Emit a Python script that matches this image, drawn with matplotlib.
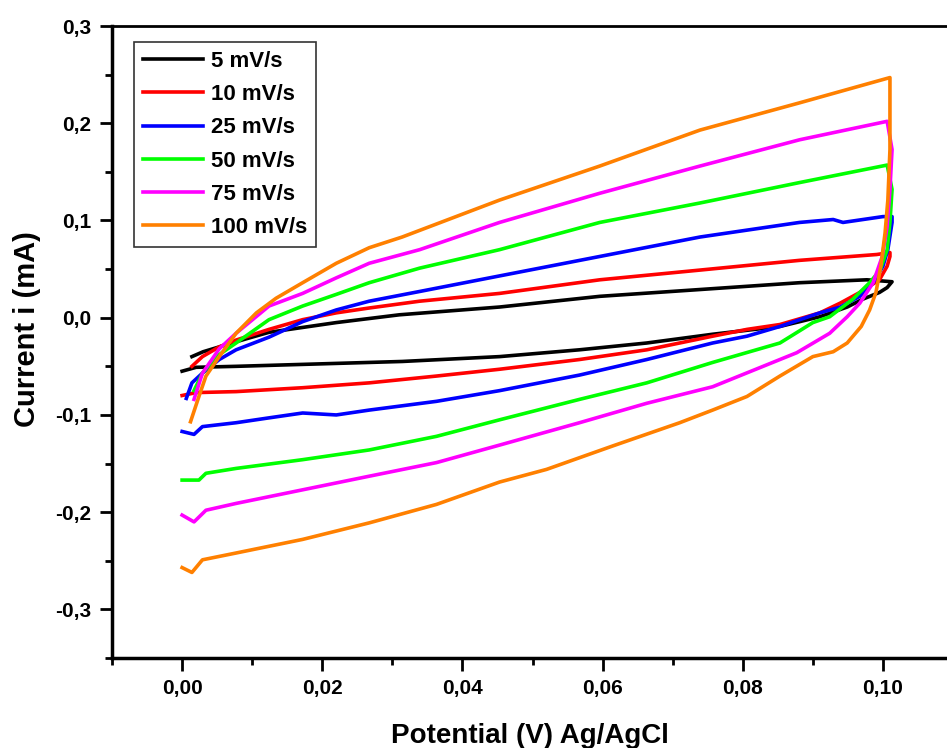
import matplotlib.pyplot as plt
from matplotlib.ticker import MultipleLocator, FuncFormatter

plt.rcParams['font.family'] = ['Liberation Sans', 'DejaVu Sans']
plt.rcParams['font.weight'] = 'bold'

# Cyclic voltammograms: forward branch, reversal, reverse branch
labels = ['5 mV/s', '10 mV/s', '25 mV/s', '50 mV/s', '75 mV/s', '100 mV/s']
colors = ['#000000', '#ff0000', '#0000ff', '#00ff00', '#ff00ff', '#ff8000']

x_5 = [0.0014, 0.0030, 0.0053, 0.0090, 0.0124, 0.0220, 0.0310, 0.0453, 0.0596,
       0.0739, 0.0881, 0.0977, 0.1013, 0.1006, 0.0995, 0.0971, 0.0949, 0.0910,
       0.0853, 0.0757, 0.0663, 0.0567, 0.0453, 0.0314, 0.0172, 0.0077, 0.0020, 0.0]
i_5 = [-0.040, -0.035, -0.030, -0.022, -0.015, -0.005, 0.003, 0.011, 0.022,
       0.029, 0.036, 0.039, 0.037, 0.031, 0.026, 0.019, 0.011, 0.001,
       -0.009, -0.017, -0.026, -0.033, -0.040, -0.045, -0.048, -0.050, -0.051, -0.055]

x_10 = [0.0014, 0.0029, 0.0053, 0.0077, 0.0124, 0.0172, 0.0220, 0.0267, 0.0339,
        0.0453, 0.0596, 0.0739, 0.0881, 0.0991, 0.1010, 0.1010, 0.1006, 0.0995,
        0.0967, 0.0939, 0.0910, 0.0853, 0.0806, 0.0757, 0.0663, 0.0567, 0.0453,
        0.0363, 0.0267, 0.0172, 0.0077, 0.0020, 0.0]
i_10 = [-0.050, -0.040, -0.030, -0.023, -0.012, -0.002, 0.005, 0.010, 0.017,
        0.025, 0.039, 0.049, 0.059, 0.065, 0.067, 0.063, 0.053, 0.039,
        0.026, 0.015, 0.005, -0.007, -0.012, -0.019, -0.033, -0.043, -0.053,
        -0.060, -0.067, -0.072, -0.076, -0.077, -0.080]

x_25 = [0.0006, 0.0014, 0.0029, 0.0053, 0.0077, 0.0124, 0.0172, 0.0220, 0.0267,
        0.0339, 0.0453, 0.0596, 0.0739, 0.0881, 0.0929, 0.0943, 0.1000, 0.1013,
        0.1013, 0.1007, 0.1000, 0.0986, 0.0967, 0.0939, 0.0910, 0.0853, 0.0806,
        0.0757, 0.0663, 0.0567, 0.0453, 0.0363, 0.0267, 0.0220, 0.0172, 0.0124,
        0.0077, 0.0029, 0.0017, 0.0]
i_25 = [-0.083, -0.067, -0.057, -0.043, -0.033, -0.020, -0.004, 0.008, 0.017,
        0.027, 0.043, 0.063, 0.083, 0.098, 0.101, 0.098, 0.104, 0.104,
        0.098, 0.070, 0.053, 0.036, 0.022, 0.011, 0.005, -0.009, -0.019,
        -0.026, -0.043, -0.059, -0.075, -0.086, -0.095, -0.100, -0.098, -0.103,
        -0.108, -0.112, -0.120, -0.117]

x_50 = [0.0017, 0.0029, 0.0049, 0.0077, 0.0124, 0.0172, 0.0220, 0.0267, 0.0339,
        0.0453, 0.0596, 0.0739, 0.0881, 0.1006, 0.1013, 0.1010, 0.1006, 0.0996,
        0.0981, 0.0957, 0.0924, 0.0900, 0.0853, 0.0757, 0.0663, 0.0567, 0.0453,
        0.0363, 0.0267, 0.0172, 0.0077, 0.0034, 0.0024, 0.0]
i_50 = [-0.075, -0.057, -0.040, -0.026, -0.002, 0.012, 0.024, 0.036, 0.051,
        0.070, 0.098, 0.118, 0.139, 0.157, 0.132, 0.098, 0.070, 0.049,
        0.036, 0.019, 0.001, -0.005, -0.026, -0.046, -0.067, -0.084, -0.105,
        -0.122, -0.136, -0.146, -0.155, -0.160, -0.167, -0.167]

x_75 = [0.0017, 0.0029, 0.0053, 0.0077, 0.0124, 0.0172, 0.0220, 0.0267, 0.0339,
        0.0453, 0.0596, 0.0739, 0.0881, 0.1006, 0.1013, 0.1010, 0.1006, 0.0999,
        0.0986, 0.0967, 0.0949, 0.0924, 0.0877, 0.0829, 0.0757, 0.0663, 0.0567,
        0.0453, 0.0363, 0.0267, 0.0172, 0.0077, 0.0034, 0.0017, 0.0]
i_75 = [-0.084, -0.057, -0.032, -0.016, 0.012, 0.025, 0.041, 0.056, 0.070,
        0.098, 0.128, 0.156, 0.183, 0.202, 0.173, 0.132, 0.094, 0.063,
        0.036, 0.015, 0.001, -0.016, -0.036, -0.050, -0.071, -0.088, -0.108,
        -0.131, -0.149, -0.163, -0.177, -0.191, -0.198, -0.210, -0.203]

x_100 = [0.0012, 0.0024, 0.0034, 0.0053, 0.0077, 0.0106, 0.0134, 0.0172, 0.0220,
         0.0267, 0.0314, 0.0453, 0.0596, 0.0739, 0.0881, 0.1010, 0.1010, 0.1007,
         0.1003, 0.0997, 0.0990, 0.0981, 0.0969, 0.0949, 0.0929, 0.0900, 0.0853,
         0.0806, 0.0757, 0.0710, 0.0614, 0.0520, 0.0453, 0.0363, 0.0267, 0.0172,
         0.0077, 0.0029, 0.0014, 0.0]
i_100 = [-0.107, -0.081, -0.060, -0.040, -0.016, 0.005, 0.020, 0.036, 0.056,
         0.072, 0.083, 0.121, 0.156, 0.193, 0.221, 0.247, 0.173, 0.121,
         0.087, 0.053, 0.026, 0.008, -0.009, -0.026, -0.035, -0.040, -0.060,
         -0.081, -0.095, -0.108, -0.132, -0.156, -0.169, -0.192, -0.211, -0.228,
         -0.242, -0.249, -0.262, -0.257]

xs = [x_5, x_10, x_25, x_50, x_75, x_100]
ys = [i_5, i_10, i_25, i_50, i_75, i_100]

fig = plt.figure(figsize=(9.47, 7.48), dpi=100)
ax = fig.add_axes([0.1183, 0.1203, 0.8817, 0.8449])

for x, y, c, lab in zip(xs, ys, colors, labels):
    ax.plot(x, y, color=c, lw=2.6, label=lab)

ax.set_xlim(-0.01, 0.10914)
ax.set_ylim(-0.35, 0.30)
ax.xaxis.set_major_locator(MultipleLocator(0.02))
ax.xaxis.set_minor_locator(MultipleLocator(0.01))
ax.yaxis.set_major_locator(MultipleLocator(0.1))
ax.yaxis.set_minor_locator(MultipleLocator(0.05))
ax.xaxis.set_major_formatter(FuncFormatter(lambda v, p: f"{v:.2f}".replace('.', ',').replace('-0,00', '0,00')))
ax.yaxis.set_major_formatter(FuncFormatter(lambda v, p: f"{v:.1f}".replace('.', ',').replace('-0,0', '0,0')))
ax.tick_params(which='major', direction='out', length=9, width=2, labelsize=15, pad=6)
ax.tick_params(which='minor', direction='out', length=5, width=2)
for lbl in ax.get_xticklabels() + ax.get_yticklabels():
    lbl.set_fontweight('bold')

ax.spines['right'].set_visible(False)
ax.spines['left'].set_linewidth(2.5)
ax.spines['bottom'].set_linewidth(2.5)
ax.spines['top'].set_linewidth(2)

ax.set_xlabel("Potential (V) Ag/AgCl", fontsize=20, fontweight='bold', labelpad=18)
ax.set_ylabel("Current i (mA)", fontsize=21, fontweight='bold')
ax.yaxis.set_label_coords(-0.085, 0.52)

leg = ax.legend(loc='upper left', bbox_to_anchor=(0.0263, 0.9747), borderaxespad=0,
                fontsize=16, handlelength=2.7, handletextpad=0.35, labelspacing=0.55,
                borderpad=0.4, fancybox=False, framealpha=1, edgecolor='#333333')
leg.get_frame().set_linewidth(1.2)
for t in leg.get_texts():
    t.set_fontweight('bold')

plt.savefig('out.png', dpi=100)
